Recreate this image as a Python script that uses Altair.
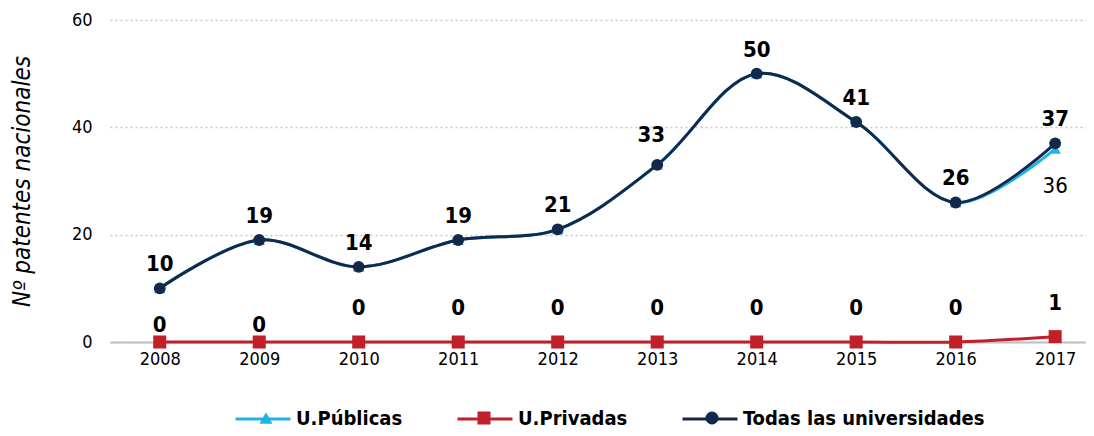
import altair as alt
import pandas as pd

years = [2008, 2009, 2010, 2011, 2012, 2013, 2014, 2015, 2016, 2017]
publicas = [10, 19, 14, 19, 21, 33, 50, 41, 26, 36]
privadas = [0, 0, 0, 0, 0, 0, 0, 0, 0, 1]
todas = [10, 19, 14, 19, 21, 33, 50, 41, 26, 37]
series = ["U.Públicas", "U.Privadas", "Todas las universidades"]
colors = ["#1CB5EA", "#C1202A", "#13294B"]
marker_shapes = ["triangle-up", "square", "circle"]
y_ticks = [0, 20, 40, 60]

FONT = "DejaVu Sans Condensed, sans-serif"

rows = []
for s, vals in zip(series, [publicas, privadas, todas]):
    for yr, v in zip(years, vals):
        rows.append({"year": yr, "serie": s, "valor": v})
df = pd.DataFrame(rows)

# legend layout (pixels relative to the plot area)
LX, LY, CP = 124, 370, 48
marker_legend_x = [146, 364, 592]

leg_lines = alt.Legend(
    title=None, orient="none", legendX=LX, legendY=LY, direction="horizontal",
    symbolType="stroke", symbolSize=3025, symbolStrokeWidth=3, symbolOpacity=1,
    labelFont=FONT, labelFontSize=20, labelFontWeight="bold", labelColor="#000000",
    labelOffset=4, labelLimit=500, columnPadding=CP,
)

x = alt.X("year:Q",
          scale=alt.Scale(domain=[2007.5, 2017.31], nice=False, zero=False),
          axis=alt.Axis(values=years, format="d", title=None, grid=False, ticks=False,
                        domain=True, domainColor="#BFBFBF", domainWidth=2,
                        labelFont=FONT, labelFontSize=18, labelColor="#000000",
                        labelPadding=8))
y = alt.Y("valor:Q",
          scale=alt.Scale(domain=[0, 60], nice=False),
          axis=alt.Axis(values=y_ticks, title="Nº patentes nacionales", grid=True,
                        gridDash=[2, 3], gridColor="#C8C8C8", gridWidth=1.5,
                        domain=False, ticks=False, labelPadding=18,
                        labelFont=FONT, labelFontSize=18, labelColor="#000000",
                        titleFont=FONT, titleFontSize=24, titleFontStyle="italic",
                        titleFontWeight="normal", titleColor="#000000",
                        titleBaseline="middle", titleX=-88, titleY=161))
color = alt.Color("serie:N", scale=alt.Scale(domain=series, range=colors), legend=None)

base = alt.Chart(df)
sizes = [130, 170, 140]
layers = []
for s, shp, sz in zip(series, marker_shapes, sizes):
    sub = base.transform_filter(alt.datum.serie == s)
    layers.append(sub.mark_line(interpolate="catmull-rom", strokeWidth=3).encode(x=x, y=y, color=color))
    layers.append(sub.mark_point(filled=True, shape=shp, size=sz, opacity=1).encode(x=x, y=y, color=color))

txt = dict(font=FONT, fontSize=22, fontWeight="bold", color="#000000")
todas_c = alt.datum.serie == "Todas las universidades"
priv_c = alt.datum.serie == "U.Privadas"
layers.append(base.transform_filter(todas_c).transform_filter(alt.datum.year != 2013)
              .mark_text(dy=-24, **txt).encode(x=x, y=y, text="valor:Q"))
layers.append(base.transform_filter(todas_c).transform_filter(alt.datum.year == 2013)
              .mark_text(dy=-30, dx=-6, **txt).encode(x=x, y=y, text="valor:Q"))
layers.append(base.transform_filter(priv_c).transform_filter(alt.datum.year <= 2009)
              .mark_text(dy=-17, **txt).encode(x=x, y=y, text="valor:Q"))
layers.append(base.transform_filter(priv_c).transform_filter(alt.datum.year > 2009)
              .mark_text(dy=-34, **txt).encode(x=x, y=y, text="valor:Q"))
layers.append(base.transform_filter(alt.datum.serie == "U.Públicas").transform_filter(alt.datum.year == 2017)
              .mark_text(dy=37, font=FONT, fontSize=22, fontWeight="normal", color="#000000")
              .encode(x=x, y=y, text="valor:Q"))

# legend-only layers: their marks sit outside the clipped plot area
layers.append(base.mark_point(opacity=1, clip=True).encode(
    x=alt.value(-500), y=alt.value(-500),
    stroke=alt.Stroke("serie:N", scale=alt.Scale(domain=series, range=colors), legend=leg_lines),
))
for s, c, shp, lx in zip(series, colors, marker_shapes, marker_legend_x):
    leg_m = alt.Legend(
        title=None, orient="none", legendX=lx, legendY=LY + 18, direction="horizontal",
        symbolSize=170, symbolStrokeWidth=0, symbolOpacity=1,
        labelFont=FONT, labelFontSize=20, labelExpr="' '", labelOffset=4,
    )
    layers.append(base.transform_filter(alt.datum.serie == s)
                  .mark_point(filled=True, opacity=1, clip=True).encode(
        x=alt.value(-500), y=alt.value(-500),
        fill=alt.Fill("serie:N", scale=alt.Scale(domain=[s], range=[c]), legend=leg_m),
        shape=alt.Shape("serie:N", scale=alt.Scale(domain=[s], range=[shp]), legend=leg_m),
    ))

chart = alt.layer(*layers).resolve_scale(
    stroke="independent", fill="independent", shape="independent"
).properties(
    width=976, height=322,
    padding={"left": 102, "top": 12, "right": 0, "bottom": 84},
    autosize="none",
).configure_view(stroke=None)

chart.save("out.html", embed_options={"renderer": "svg", "actions": False})
